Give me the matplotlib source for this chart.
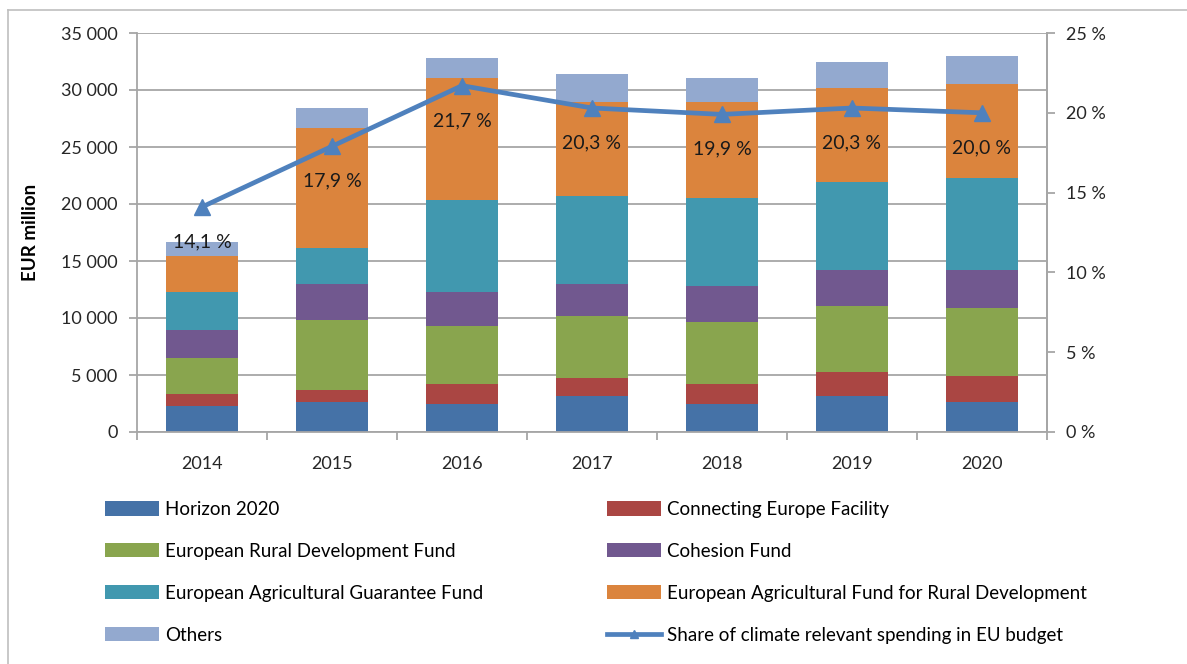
import matplotlib.pyplot as plt
from matplotlib.lines import Line2D
from matplotlib.patches import Patch
from matplotlib.ticker import FuncFormatter, FixedLocator
import numpy as np

plt.rcParams['font.family'] = ['Lato', 'DejaVu Sans']

years = ["2014", "2015", "2016", "2017", "2018", "2019", "2020"]

horizon = [2300, 2630, 2490, 3190, 2490, 3190, 2660]
cef = [1060, 1080, 1750, 1580, 1750, 2100, 2280]
erdf = [3160, 6140, 5090, 5440, 5410, 5790, 5940]
cohesion = [2460, 3130, 2950, 2780, 3190, 3160, 3360]
eagf = [3300, 3160, 8100, 7720, 7690, 7690, 8040]
eafrd = [3160, 10530, 10670, 8250, 8420, 8250, 8250]
others = [1260, 1750, 1730, 2460, 2100, 2250, 2490]

climate_share = [14.1, 17.9, 21.7, 20.3, 19.9, 20.3, 20.0]

series_names = [
    "Horizon 2020",
    "Connecting Europe Facility",
    "European Rural Development Fund",
    "Cohesion Fund",
    "European Agricultural Guarantee Fund",
    "European Agricultural Fund for Rural Development",
    "Others",
]
line_name = "Share of climate relevant spending in EU budget"

colors = ["#4572A7", "#AA4643", "#89A54E", "#71588F", "#4198AF", "#DB843D", "#93A9CF"]
line_color = "#4F81BD"
grid_color = "#A6A6A6"
text_color = "#262626"

W, H = 1187, 664
fig = plt.figure(figsize=(W / 100, H / 100), dpi=100)
ax = fig.add_axes([137 / W, 1 - 432 / H, 910 / W, 399 / H])

x = np.arange(len(years))
bottom = np.zeros(len(years))
for vals, name, col in zip([horizon, cef, erdf, cohesion, eagf, eafrd, others], series_names, colors):
    ax.bar(x, vals, width=0.55, bottom=bottom, color=col, label=name, zorder=2)
    bottom += np.array(vals)

ax.set_xlim(-0.5, len(years) - 0.5)
ax.set_ylim(0, 35000)
ax.set_yticks(np.arange(0, 35001, 5000))
ax.yaxis.set_major_formatter(FuncFormatter(lambda v, p: f"{int(v):,}".replace(",", " ")))
ax.grid(axis="y", color=grid_color, linewidth=1.3, zorder=0)
ax.set_axisbelow(True)

ax.set_xticks(x)
ax.set_xticklabels(years)
ax.xaxis.set_minor_locator(FixedLocator(np.arange(-0.5, len(years), 1.0)))
ax.tick_params(axis="x", which="major", length=0, pad=17, labelsize=13, colors=text_color)
ax.tick_params(axis="x", which="minor", length=6, color=grid_color, width=1.3)
ax.tick_params(axis="y", length=6, color=grid_color, width=1.3, labelsize=13, labelcolor=text_color, pad=8)

ax.spines["top"].set_visible(False)
for s in ["left", "bottom", "right"]:
    ax.spines[s].set_color(grid_color)
    ax.spines[s].set_linewidth(1.3)

ax.set_ylabel("EUR million", fontsize=13.5, fontweight="bold", labelpad=16)

ax2 = ax.twinx()
ax2.set_ylim(0, 25)
ax2.set_yticks(np.arange(0, 26, 5))
ax2.yaxis.set_major_formatter(FuncFormatter(lambda v, p: f"{int(v)} %"))
ax2.tick_params(axis="y", length=6, color=grid_color, width=1.3, labelsize=13, labelcolor=text_color, pad=8)
for s in ["top", "left", "bottom"]:
    ax2.spines[s].set_visible(False)
ax2.spines["right"].set_color(grid_color)
ax2.spines["right"].set_linewidth(1.3)

ax2.plot(x, climate_share, color=line_color, linewidth=3.4, marker="^", markersize=11, zorder=5)
for xi, v in zip(x, climate_share):
    ax2.annotate(f"{v:.1f} %".replace(".", ","), (xi, v), xytext=(0, -25), textcoords="offset points",
                 ha="center", va="center", fontsize=14, color="#1a1a1a")

handles = [Patch(facecolor=c, label=n) for c, n in zip(colors, series_names)]
handles.append(Line2D([0], [0], color=line_color, linewidth=3.4, marker="^", markersize=6, label=line_name))
order = [0, 2, 4, 6, 1, 3, 5, 7]
fig.legend([handles[i] for i in order], [handles[i].get_label() for i in order],
           ncol=2, loc="upper left", bbox_to_anchor=(88 / W, 1 - 484 / H), frameon=False,
           fontsize=13.5, handlelength=2.9, handleheight=0.8, labelspacing=1.33, columnspacing=6.6,
           handletextpad=0.3)

fig.add_artist(Line2D([8 / W, 8 / W], [0, 1 - 10 / H], color="#BFBFBF", linewidth=1.2))
fig.add_artist(Line2D([8 / W, 1], [1 - 10 / H, 1 - 10 / H], color="#BFBFBF", linewidth=1.2))

fig.savefig("out.png", dpi=100)
